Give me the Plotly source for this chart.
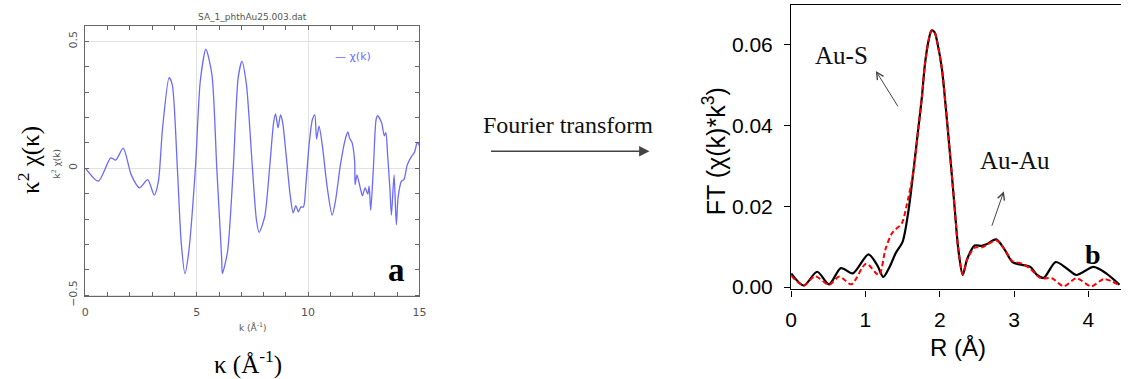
import plotly.graph_objects as go

# ---------------- data ----------------
# panel a : k^2 chi(k) vs k
k_vals = [0, 0.58, 1.14, 1.36, 1.7, 2.06, 2.43, 2.8, 3.09, 3.28, 3.46, 3.76, 3.9, 4.13, 4.3,
          4.47, 4.64, 4.94, 5.16, 5.41, 5.68, 5.9, 6.12, 6.15, 6.38, 6.64, 6.86, 7.03, 7.23,
          7.5, 7.68, 7.8, 8.05, 8.27, 8.45, 8.54, 8.65, 8.76, 8.86, 9.0, 9.19, 9.33, 9.45,
          9.56, 9.67, 9.79, 9.9, 10.04, 10.19, 10.3, 10.38, 10.49, 10.64, 10.86, 11.08, 11.23,
          11.45, 11.67, 11.78, 11.87, 11.97, 12.09, 12.11, 12.19, 12.34, 12.44, 12.56, 12.68,
          12.74, 12.81, 12.93, 13.05, 13.12, 13.3, 13.42, 13.49, 13.57, 13.67, 13.74, 13.86,
          13.96, 14.04, 14.19, 14.3, 14.45, 14.63, 14.78, 14.9, 15.0]
chi_k2 = [0, -0.051, 0.041, 0.032, 0.079, -0.026, -0.077, -0.045, -0.106, -0.051, 0.153, 0.357,
          0.33, 0, -0.29, -0.415, -0.33, 0, 0.344, 0.469, 0.37, 0, -0.357, -0.415, -0.33, 0,
          0.357, 0.421, 0.33, 0, -0.204, -0.253, -0.191, 0, 0.179, 0.214, 0.159, 0.21, 0.179,
          0.064, -0.102, -0.176, -0.147, -0.172, -0.153, -0.153, -0.064, 0.089, 0.191, 0.21,
          0.115, 0.166, 0.089, -0.077, -0.185, -0.128, 0.013, 0.115, 0.143, 0.117, 0.102,
          0.026, -0.064, -0.026, -0.077, -0.108, -0.077, -0.102, -0.07, -0.166, 0, 0.191,
          0.207, 0.179, 0.128, 0.14, 0.051, -0.077, -0.185, -0.026, -0.223, -0.115, -0.051,
          -0.045, 0.013, 0.045, 0.064, 0.102, 0.089]

# panel b : Fourier transform magnitude, data (black) and fit (red)
R_data = [0, 0.17, 0.35, 0.51, 0.67, 0.83, 1.04, 1.16, 1.24, 1.32, 1.41, 1.5, 1.58, 1.65,
          1.71, 1.76, 1.80, 1.85, 1.89, 1.93, 1.97, 2.03, 2.08, 2.14, 2.20, 2.25, 2.31, 2.37,
          2.47, 2.56, 2.63, 2.76, 2.87, 2.98, 3.11, 3.22, 3.31, 3.40, 3.56, 3.71, 3.84, 4.07,
          4.24, 4.42]
ft_data = [0.0034, 0.0004, 0.0038, 0.0007, 0.0047, 0.0034, 0.0081, 0.0054, 0.0025, 0.0048,
           0.0085, 0.0112, 0.019, 0.0294, 0.039, 0.047, 0.055, 0.061, 0.0635, 0.0631, 0.0603,
           0.0539, 0.0447, 0.0326, 0.0198, 0.0094, 0.003, 0.007, 0.0103, 0.0102, 0.0106,
           0.0118, 0.0094, 0.0062, 0.0055, 0.005, 0.003, 0.0023, 0.0062, 0.0046, 0.003, 0.005,
           0.0034, 0.0006]
R_fit = [0, 0.17, 0.32, 0.51, 0.65, 0.81, 1.01, 1.18, 1.27, 1.36, 1.49, 1.55, 1.65, 1.71,
         1.76, 1.80, 1.85, 1.89, 1.93, 1.97, 2.03, 2.08, 2.14, 2.20, 2.25, 2.31, 2.37, 2.47,
         2.56, 2.63, 2.76, 2.87, 2.98, 3.11, 3.22, 3.36, 3.51, 3.67, 3.84, 4.04, 4.21, 4.42]
ft_fit = [0.0028, 0.0004, 0.0027, 0.0006, 0.0026, 0.0007, 0.0058, 0.003, 0.0094, 0.0134,
          0.0158, 0.0198, 0.029, 0.039, 0.047, 0.055, 0.061, 0.0635, 0.0631, 0.0603, 0.0539,
          0.0447, 0.0326, 0.0198, 0.0094, 0.0032, 0.0068, 0.0098, 0.0098, 0.0104, 0.0116,
          0.0094, 0.0064, 0.0058, 0.0045, 0.0022, 0.0022, 0.0002, 0.0022, 0.0002, 0.002,
          0.0004]

# ---------------- figure ----------------
W, H = 1128, 379


def px(x):
    return x / W


def py(y):
    return 1 - y / H


SERIF = "Liberation Serif"
SANS = "Liberation Sans"
SMALL = "DejaVu Sans"
GREY = "#555555"

fig = go.Figure()
fig.add_trace(go.Scatter(x=k_vals, y=chi_k2, mode="lines", xaxis="x", yaxis="y",
                         line=dict(color="#6a6aff", width=1.3, shape="spline", smoothing=0.7),
                         showlegend=False, hoverinfo="skip"))
fig.add_trace(go.Scatter(x=R_data, y=ft_data, mode="lines", xaxis="x2", yaxis="y2",
                         line=dict(color="black", width=2.2, shape="spline", smoothing=0.8),
                         showlegend=False))
fig.add_trace(go.Scatter(x=R_fit, y=ft_fit, mode="lines", xaxis="x2", yaxis="y2",
                         line=dict(color="#ff0000", width=2, dash="5px,3px", shape="spline",
                                   smoothing=0.8),
                         showlegend=False))

ann = []


def text(x, y, t, size, font=SERIF, color="black", angle=0):
    ann.append(dict(x=px(x), y=py(y), xref="paper", yref="paper", text=t, showarrow=False,
                    textangle=angle, xanchor="center", yanchor="middle",
                    font=dict(family=font, size=size, color=color)))


def arrow(x0, y0, x1, y1, head, color, width, size):
    ann.append(dict(x=px(x1), y=py(y1), xref="paper", yref="paper", ax=x0 - x1, ay=y0 - y1,
                    axref="pixel", ayref="pixel", text="", showarrow=True, arrowhead=head,
                    arrowcolor=color, arrowwidth=width, arrowsize=size, standoff=0,
                    startstandoff=0))


# panel a texts
text(249, 18, "SA_1_phthAu25.003.dat", 9, SMALL, GREY)
text(23, 165, "κ<sup>2</sup> χ(κ)", 25, SERIF, "black", -90)
text(51, 168, "k<sup>2</sup> χ(k)", 9, SMALL, GREY, -90)
text(250, 337, "k (Å<sup>-1</sup>)", 9, SMALL, GREY)
text(245, 373, "κ (Å<sup>-1</sup>)", 25, SERIF, "black")
text(351, 58, "— χ(k)", 11, SMALL, "#6a6aff")
text(395, 278, "<b>a</b>", 33, SERIF, "black")

# middle
text(569, 129, "Fourier transform", 24, SERIF, "#111111")
arrow(491, 155.7, 651, 155.7, 2, "#444444", 1.6, 1.3)

# panel b texts
text(845, 57, "Au-S", 25, SERIF, "#111111")
text(1021, 165, "Au-Au", 25, SERIF, "#111111")
text(1100, 262, "<b>b</b>", 28, SERIF, "black")
text(717, 156, "FT (χ(k)*k<sup>3</sup>)", 25, SANS, "black", -90)
text(963, 358, "R (Å)", 24, SANS, "black")
arrow(903, 110, 880, 73, 5, "#444444", 1, 1.4)
arrow(997, 233, 1009.5, 197, 5, "#444444", 1, 1.4)

fig.update_layout(
    width=W, height=H, margin=dict(l=0, r=0, t=0, b=0),
    paper_bgcolor="white", plot_bgcolor="white",
    annotations=ann,
    xaxis=dict(domain=[px(80.3), px(418.3)], range=[0, 15], anchor="y",
               showline=True, linecolor="#666666", linewidth=1, mirror="allticks",
               ticks="inside", ticklen=4, tickcolor="#666666", dtick=5, tick0=0,
               tickfont=dict(family=SMALL, size=11, color=GREY), ticklabelstandoff=6,
               showgrid=True, gridcolor="#e2e2e2", gridwidth=1, zeroline=False,
               minor=dict(dtick=1, ticks="inside", ticklen=4, tickcolor="#666666",
                          showgrid=False)),
    yaxis=dict(domain=[py(305), py(26.7)], range=[-0.504, 0.561], anchor="x",
               showline=True, linecolor="#666666", linewidth=1, mirror="allticks",
               ticks="inside", ticklen=4, tickcolor="#666666", dtick=0.5, tick0=0,
               tickvals=[-0.5, 0, 0.5], ticktext=["−0.5", "0", "0.5"],
               tickangle=-90, tickfont=dict(family=SMALL, size=11, color=GREY),
               ticklabelstandoff=3,
               showgrid=True, gridcolor="#e2e2e2", gridwidth=1, zeroline=False,
               minor=dict(dtick=0.1, tick0=0, ticks="inside", ticklen=4,
                          tickcolor="#666666", showgrid=False)),
    xaxis2=dict(domain=[px(794.3), 1.0], range=[0, 4.44], anchor="y2",
                showline=True, linecolor="black", linewidth=1.3, mirror=True,
                ticks="outside", ticklen=6, tickcolor="black", dtick=1, tick0=0,
                tickfont=dict(family=SANS, size=21, color="black"),
                ticklabelstandoff=5, showgrid=False, zeroline=False),
    yaxis2=dict(domain=[py(298), py(4.7)], range=[-0.00055, 0.0699], anchor="x2",
                showline=True, linecolor="black", linewidth=1.3, mirror=False,
                ticks="outside", ticklen=6, tickcolor="black", dtick=0.02, tick0=0,
                tickformat=".2f", tickfont=dict(family=SANS, size=21, color="black"),
                ticklabelstandoff=7, showgrid=False, zeroline=False),
)

fig.write_html("out.html")
